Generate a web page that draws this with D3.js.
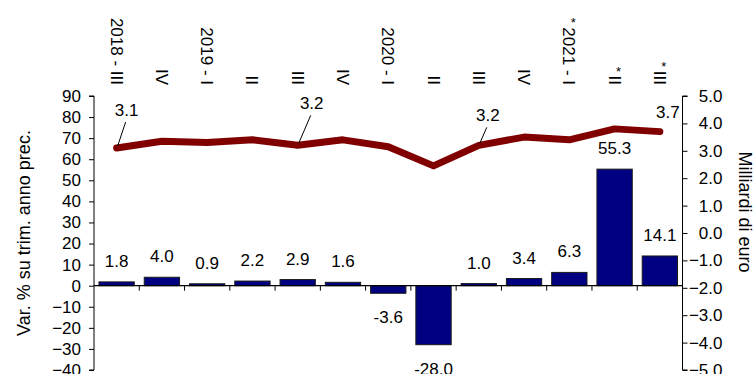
<!DOCTYPE html>
<html>
<head>
<meta charset="utf-8">
<script src="https://cdn.jsdelivr.net/npm/d3@7/dist/d3.min.js"></script>
<style>
  html, body { margin: 0; padding: 0; background: #fff; }
  svg { display: block; font-family: "Liberation Sans", Arial, sans-serif; }
</style>
</head>
<body>
<svg id="chart" width="755" height="374"></svg>
<script>
// Quarters shown along the top
const categories = ["2018 - III", "IV", "2019 - I", "II", "III", "IV", "2020 - I", "II", "III", "IV", "2021 - I", "II", "III"];
// Provisional quarters (marked with an asterisk)
const provisional = [false, false, false, false, false, false, false, false, false, false, true, true, true];
// Bars: % change on the same quarter of the previous year (left axis)
const pctChange = [1.8, 4.0, 0.9, 2.2, 2.9, 1.6, -3.6, -28.0, 1.0, 3.4, 6.3, 55.3, 14.1];
// Line: billions of euro (right axis)
const billions = [3.1, 3.35, 3.3, 3.4, 3.2, 3.4, 3.15, 2.45, 3.2, 3.5, 3.4, 3.8, 3.7];
// Points of the line that carry a value label
const labelledPoints = [0, 4, 8, 12];
// Tick values
const leftTicks = [-40, -30, -20, -10, 0, 10, 20, 30, 40, 50, 60, 70, 80, 90];
const rightTicks = [-5, -4, -3, -2, -1, 0, 1, 2, 3, 4, 5];

// Label placement for the line values: offset from the point and whether a leader is drawn
const lineLabelLayout = [
  { dx: 10, dy: -38, leader: true },
  { dx: 14, dy: -42, leader: true },
  { dx: 9,  dy: -30, leader: true },
  { dx: 8,  dy: -20, leader: false }
];

(function draw() {
  const svg = d3.select("#chart");
  const pLeft = 94, pRight = 682.5, pTop = 96, pBottom = 370;
  const fontSize = 17;
  const fontFamily = "Liberation Sans, Arial, sans-serif";

  // Quarter labels repeat, so the band scale is keyed on position
  const idx = d3.range(categories.length);
  const x = d3.scaleBand().domain(idx).range([pLeft, pRight]).padding(0);
  const step = x.step();
  const barW = step * 0.78;
  const cx = i => x(i) + step / 2;
  const yL = d3.scaleLinear().domain([-40, 90]).range([pBottom, pTop]);
  const yR = d3.scaleLinear().domain([-5, 5]).range([pBottom, pTop]);

  // Bars
  svg.append("g").selectAll("rect")
    .data(pctChange)
    .join("rect")
    .attr("x", (d, i) => cx(i) - barW / 2)
    .attr("y", d => yL(Math.max(0, d)))
    .attr("width", barW)
    .attr("height", d => Math.abs(yL(d) - yL(0)))
    .attr("fill", "#000080")
    .attr("stroke", "#1a1a1a")
    .attr("stroke-width", 1);

  // Zero line with category separators
  const zeroAxis = svg.append("g").attr("transform", `translate(0,${yL(0)})`);
  zeroAxis.append("line").attr("x1", pLeft).attr("x2", pRight).attr("stroke", "#000").attr("stroke-width", 1.2);
  zeroAxis.selectAll("line.sep")
    .data(idx.slice(1))
    .join("line")
    .attr("class", "sep")
    .attr("x1", i => x(i)).attr("x2", i => x(i))
    .attr("y1", 0).attr("y2", 5)
    .attr("stroke", "#000");

  // Left axis
  const axL = d3.axisLeft(yL).tickValues(leftTicks).tickSize(5).tickPadding(8).tickFormat(d3.format("d"));
  const gL = svg.append("g").attr("transform", `translate(${pLeft},0)`).call(axL);
  gL.select(".domain").attr("stroke", "#000").attr("d", `M-5,${pTop}H0V${pBottom}H-5`);
  gL.selectAll("text").attr("font-size", fontSize).attr("font-family", fontFamily).attr("fill", "#000");

  // Right axis
  const axR = d3.axisRight(yR).tickValues(rightTicks).tickSize(5).tickPadding(15).tickFormat(d3.format(".1f"));
  const gR = svg.append("g").attr("transform", `translate(${pRight},0)`).call(axR);
  gR.select(".domain").attr("stroke", "#000").attr("d", `M5,${pTop}H0V${pBottom}H5`);
  gR.selectAll("text").attr("font-size", fontSize).attr("font-family", fontFamily).attr("fill", "#000")
    .attr("text-anchor", "end").attr("x", 40);

  // Line series
  const line = d3.line()
    .x((d, i) => cx(i))
    .y(d => yR(d));
  svg.append("path")
    .datum(billions)
    .attr("d", line)
    .attr("fill", "none")
    .attr("stroke", "#800000")
    .attr("stroke-width", 7)
    .attr("stroke-linejoin", "round")
    .attr("stroke-linecap", "round");

  // Bar value labels
  svg.append("g").selectAll("text")
    .data(pctChange)
    .join("text")
    .attr("x", (d, i) => cx(i))
    .attr("y", d => d >= 0 ? yL(d) - 15 : yL(d) + 30)
    .attr("text-anchor", "middle")
    .attr("font-size", fontSize)
    .text(d => d.toFixed(1));

  // Line value labels with leaders
  labelledPoints.forEach((i, k) => {
    const px = cx(i);
    const py = yR(billions[i]);
    const lay = lineLabelLayout[k];
    const lx = px + lay.dx, ly = py + lay.dy;
    if (lay.leader) {
      svg.append("line")
        .attr("x1", px + 1).attr("y1", py - 2)
        .attr("x2", lx - 1).attr("y2", ly + 12)
        .attr("stroke", "#000").attr("stroke-width", 1);
    }
    svg.append("text")
      .attr("x", lx).attr("y", ly + 6)
      .attr("text-anchor", "middle")
      .attr("font-size", fontSize)
      .text(billions[i].toFixed(1));
  });

  // Category labels along the top, rotated
  const catG = svg.append("g");
  categories.forEach((c, i) => {
    const xc = cx(i);
    const t = catG.append("text")
      .attr("transform", `translate(${xc},85) rotate(90)`)
      .attr("text-anchor", "end")
      .attr("dy", "0.35em")
      .attr("font-size", fontSize)
      .text(c);
    if (provisional[i]) {
      const len = t.node().getComputedTextLength();
      catG.append("text")
        .attr("x", xc + 4)
        .attr("y", 85 - len)
        .attr("text-anchor", "middle")
        .attr("font-size", 13)
        .text("*");
    }
  });

  // Axis titles
  svg.append("text")
    .attr("transform", "translate(24,233) rotate(-90)")
    .attr("text-anchor", "middle")
    .attr("dy", "0.35em")
    .attr("font-size", 18)
    .text("Var. % su trim. anno prec.");
  svg.append("text")
    .attr("transform", "translate(745,212) rotate(90)")
    .attr("text-anchor", "middle")
    .attr("dy", "0.35em")
    .attr("font-size", 18)
    .text("Milliardi di euro");
})();
</script>
</body>
</html>
